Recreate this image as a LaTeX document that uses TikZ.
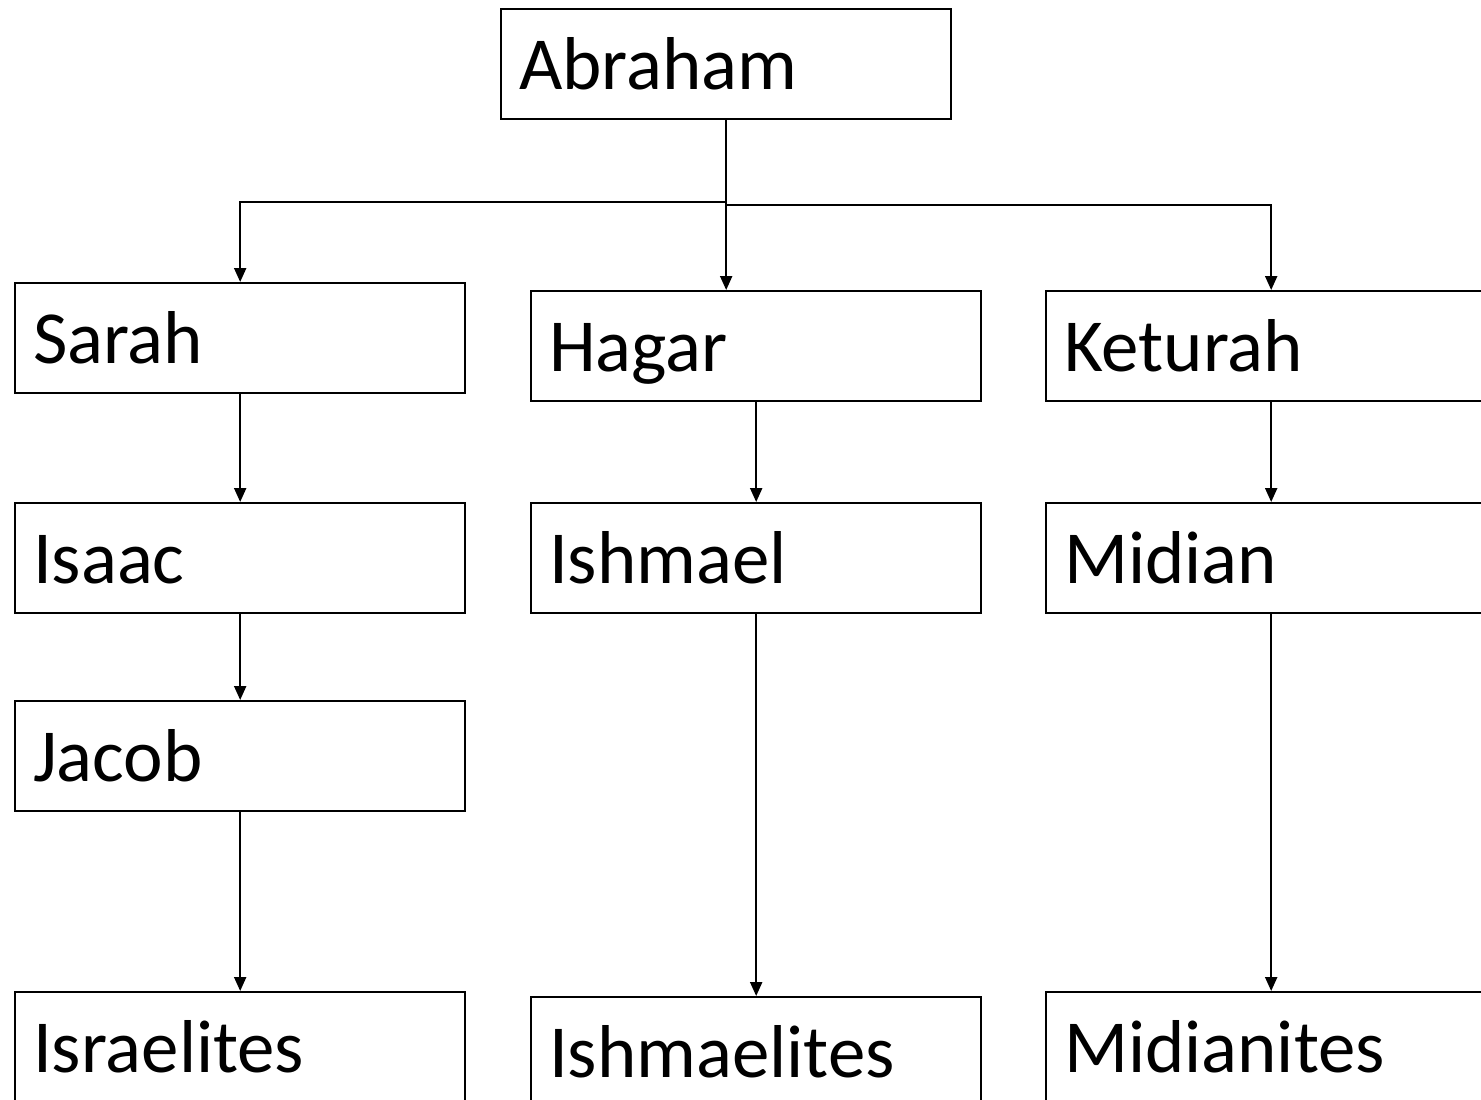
\documentclass[tikz,border=0pt]{standalone}
\usepackage{fontspec}
\setmainfont{Carlito}
\usetikzlibrary{arrows.meta}
\begin{document}
\begin{tikzpicture}[x=0.01cm,y=-0.01cm,
  person/.style={draw,line width=0.6pt,anchor=north west,minimum width=4.5cm,
    minimum height=1.1cm,text width=4.14cm,inner xsep=0.18cm,inner ysep=0pt,
    align=left,text height=0.65cm,text depth=0.15cm,
    font=\fontsize{21.3}{25}\selectfont},
  link/.style={line width=0.6pt,-{Triangle[length=0.14cm,width=0.12cm]}}]
\clip (0,0) rectangle (1481,1099);
% the family boxes
\node[person] (abraham) at (500,8) {Abraham};
\node[person] (sarah) at (14,282) {Sarah};
\node[person] (hagar) at (530,290) {Hagar};
\node[person] (keturah) at (1045,290) {Keturah};
\node[person] (isaac) at (14,502) {Isaac};
\node[person] (ishmael) at (530,502) {Ishmael};
\node[person] (midian) at (1045,502) {Midian};
\node[person] (jacob) at (14,700) {Jacob};
\node[person] (israelites) at (14,991) {Israelites};
\node[person] (ishmaelites) at (530,996) {Ishmaelites};
\node[person] (midianites) at (1045,991) {Midianites};
% links
\coordinate (split) at ([yshift=-0.82cm]abraham.south);
\draw[line width=0.6pt] (abraham.south) -- (split);
\draw[link] (split) -| (sarah.north);
\draw[link] (split) -- (split |- hagar.north);
\draw[link] ([yshift=-0.03cm]split) -| (keturah.north);
\draw[link] (sarah.south) -- (isaac.north);
\draw[link] (isaac.south) -- (jacob.north);
\draw[link] (jacob.south) -- (israelites.north);
\draw[link] (hagar.south) -- (ishmael.north);
\draw[link] (ishmael.south) -- (ishmaelites.north);
\draw[link] (keturah.south) -- (midian.north);
\draw[link] (midian.south) -- (midianites.north);
\end{tikzpicture}
\end{document}
